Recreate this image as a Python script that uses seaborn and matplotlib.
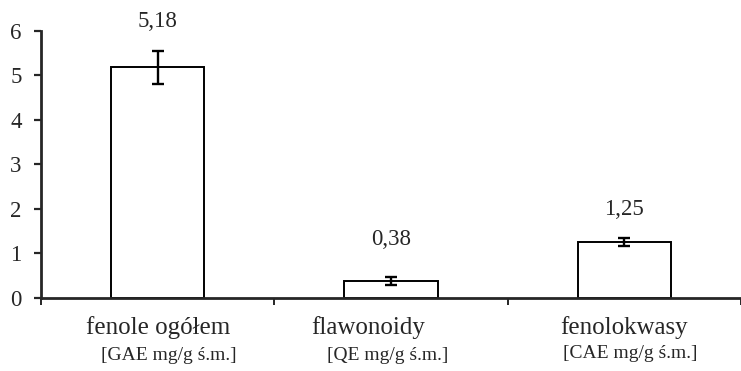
import pandas as pd
import numpy as np
import matplotlib
matplotlib.use("Agg")
import matplotlib.pyplot as plt
import seaborn as sns

# data
categories = ["fenole ogółem", "flawonoidy", "fenolokwasy"]
units = ["[GAE mg/g ś.m.]", "[QE mg/g ś.m.]", "[CAE mg/g ś.m.]"]
values = [5.18, 0.38, 1.25]
errors = [0.37, 0.09, 0.10]
value_labels = ["5,18", "0,38", "1,25"]

df = pd.DataFrame({"kategoria": categories, "wartosc": values})

sns.set_style("ticks")
plt.rcParams["font.family"] = ["Liberation Serif", "DejaVu Serif"]

fig = plt.figure(figsize=(7.41, 3.71), dpi=100)
ax = fig.add_axes([41 / 741, 1 - 297.5 / 371, 700 / 741, 266.5 / 371])

sns.barplot(data=df, x="kategoria", y="wartosc", color="white",
            edgecolor="black", linewidth=1.4, width=0.40, errorbar=None, ax=ax)
ax.errorbar(np.arange(len(values)), values, yerr=errors, fmt="none",
            ecolor="black", elinewidth=1.7, capsize=4, capthick=1.7)

ax.set_ylim(0, 6)
ax.set_xlim(-0.5, 2.466)
ax.set_yticks(range(0, 7))
ax.tick_params(axis="y", labelsize=16.5, length=5, width=1.6, pad=9)
ax.set_xticks([-0.5, 0.5, 1.5, 2.5])
ax.set_xticklabels([])
ax.tick_params(axis="x", length=5, width=1.4, direction="out")
ax.set_xlabel("")
ax.set_ylabel("")
sns.despine(ax=ax, top=True, right=True)
ax.spines["left"].set_linewidth(2)
ax.spines["bottom"].set_linewidth(2)

# value labels above the error bars
label_lift = [29, 37, 28]
for i, (v, e, t) in enumerate(zip(values, errors, value_labels)):
    ax.annotate(t, xy=(i, v + e), xytext=(0, label_lift[i]),
                textcoords="offset pixels", ha="center", va="center", fontsize=16.5)

# category names and units under the axis
cat_dx = [0, -23, 0]
unit_dx = [11, -3, 6]
unit_dy = [-58.5, -58.5, -56.5]
for i, (c, u) in enumerate(zip(categories, units)):
    ax.annotate(c, xy=(i, 0), xycoords=("data", "axes fraction"),
                xytext=(cat_dx[i], -30.5), textcoords="offset pixels",
                ha="center", va="center", fontsize=18, annotation_clip=False)
    ax.annotate(u, xy=(i, 0), xycoords=("data", "axes fraction"),
                xytext=(unit_dx[i], unit_dy[i]), textcoords="offset pixels",
                ha="center", va="center", fontsize=14, annotation_clip=False)

fig.savefig("out.png", dpi=100)
